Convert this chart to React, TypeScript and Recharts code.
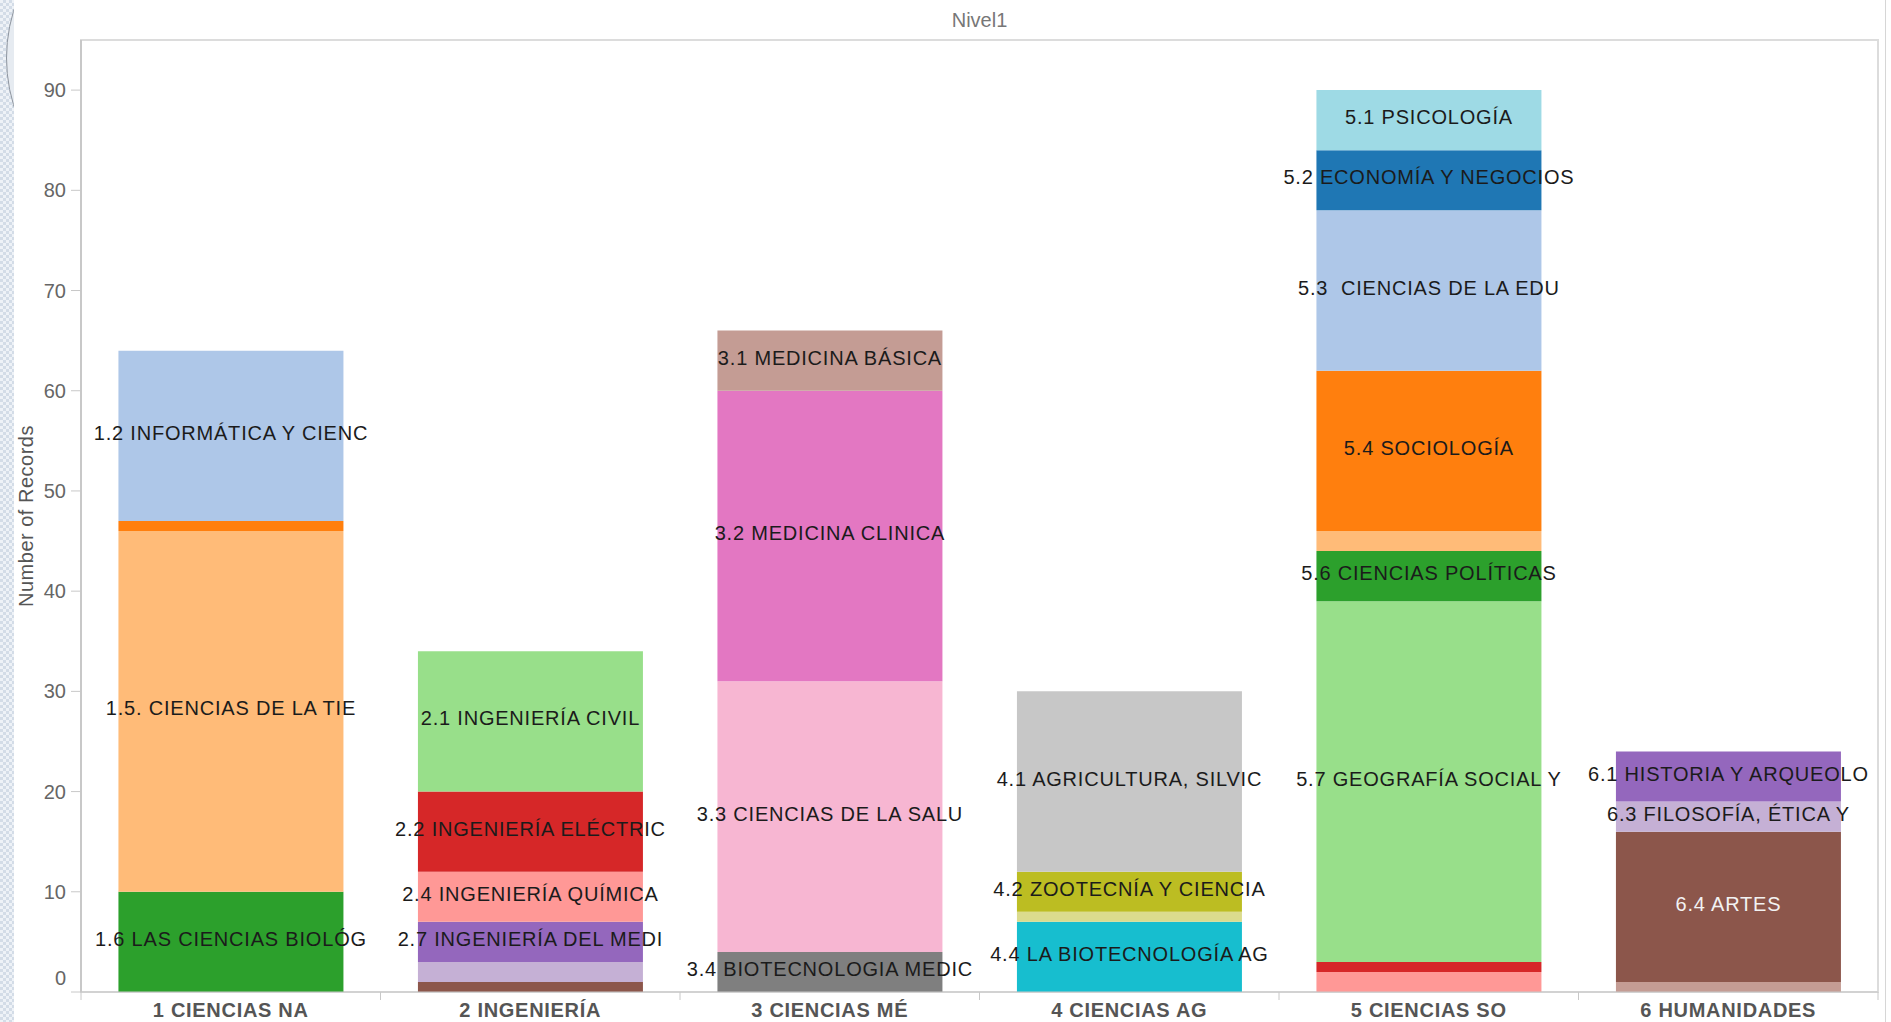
import { BarChart, Bar, XAxis, YAxis, LabelList, ReferenceArea } from "recharts";

const categories = [
  "1 CIENCIAS NA",
  "2 INGENIERÍA",
  "3 CIENCIAS MÉ",
  "4 CIENCIAS AG",
  "5 CIENCIAS SO",
  "6 HUMANIDADES",
];

// sub-areas, listed top of the stack to bottom inside each column
const subKeys = [
  "1.2", "1.3", "1.5", "1.6",
  "2.1", "2.2", "2.4", "2.7", "2.8", "2.9",
  "3.1", "3.2", "3.3", "3.4",
  "4.1", "4.2", "4.3", "4.4",
  "5.1", "5.2", "5.3", "5.4", "5.5", "5.6", "5.7", "5.8", "5.9",
  "6.1", "6.3", "6.4", "6.5",
];

const subLabels = [
  "1.2 INFORMÁTICA Y CIENC", "", "1.5. CIENCIAS DE LA TIE", "1.6 LAS CIENCIAS BIOLÓG",
  "2.1 INGENIERÍA CIVIL", "2.2 INGENIERÍA ELÉCTRIC", "2.4 INGENIERÍA QUÍMICA", "2.7 INGENIERÍA DEL MEDI", "", "",
  "3.1 MEDICINA BÁSICA", "3.2 MEDICINA CLINICA", "3.3 CIENCIAS DE LA SALU", "3.4 BIOTECNOLOGIA MEDIC",
  "4.1 AGRICULTURA, SILVIC", "4.2 ZOOTECNÍA Y CIENCIA", "", "4.4 LA BIOTECNOLOGÍA AG",
  "5.1 PSICOLOGÍA", "5.2 ECONOMÍA Y NEGOCIOS", "5.3  CIENCIAS DE LA EDU", "5.4 SOCIOLOGÍA", "",
  "5.6 CIENCIAS POLÍTICAS", "5.7 GEOGRAFÍA SOCIAL Y", "", "",
  "6.1 HISTORIA Y ARQUEOLO", "6.3 FILOSOFÍA, ÉTICA Y", "6.4 ARTES", "",
];

const subCategory = [
  0, 0, 0, 0,
  1, 1, 1, 1, 1, 1,
  2, 2, 2, 2,
  3, 3, 3, 3,
  4, 4, 4, 4, 4, 4, 4, 4, 4,
  5, 5, 5, 5,
];

const subValues = [
  17, 1, 36, 10,
  14, 8, 5, 4, 2, 1,
  6, 29, 27, 4,
  18, 4, 1, 7,
  6, 6, 16, 16, 2, 5, 36, 1, 2,
  5, 3, 15, 1,
];

const yTicks = [0, 10, 20, 30, 40, 50, 60, 70, 80, 90];

// tableau 20
const palette = [
  "#1f77b4", "#aec7e8", "#ff7f0e", "#ffbb78", "#2ca02c", "#98df8a", "#d62728", "#ff9896",
  "#9467bd", "#c5b0d5", "#8c564b", "#c49c94", "#e377c2", "#f7b6d2", "#7f7f7f", "#c7c7c7",
  "#bcbd22", "#dbdb8d", "#17becf", "#9edae5",
];

const data = categories.map((cat, c) => {
  const row: Record<string, string | number> = { cat };
  subKeys.forEach((k, i) => {
    if (subCategory[i] === c) row[k] = subValues[i];
  });
  return row;
});

const FONT = "'Liberation Sans', Arial, sans-serif";

function XTick(props: any) {
  const { x, y, payload, index } = props;
  const off = payload?.offset ?? 0;
  return (
    <g>
      {index === 0 && <line x1={x - off} x2={x - off} y1={y} y2={y + 8} stroke="#c8c8c8" />}
      <line x1={x + off} x2={x + off} y1={y} y2={y + 8} stroke="#c8c8c8" />
      <text x={x} y={y + 25} textAnchor="middle" fontSize={20} fontWeight="bold" fill="#555" fontFamily={FONT} letterSpacing={0.7}>
        {payload.value}
      </text>
    </g>
  );
}

function YTick(props: any) {
  const { x, y, payload } = props;
  const dy = payload.value === 0 ? -14 : 0;
  return (
    <text x={x} y={y + dy} textAnchor="end" dominantBaseline="central" fontSize={20} fill="#666" fontFamily={FONT}>
      {payload.value}
    </text>
  );
}

function segmentLabel(text: string, color: string) {
  return (props: any) => {
    const vb = props.viewBox || props;
    const x = vb.x ?? props.x;
    const y = vb.y ?? props.y;
    const w = vb.width ?? props.width;
    const h = vb.height ?? props.height;
    if (!text || !(Math.abs(h) > 0.5)) return null;
    return (
      <text
        x={x + w / 2}
        y={y + h / 2 - 3}
        textAnchor="middle"
        dominantBaseline="central"
        fontSize={20}
        fill={color}
        fontFamily={FONT}
        letterSpacing={0.8}
        style={{ whiteSpace: "pre" }}
      >
        {text}
      </text>
    );
  };
}

export default function App() {
  const bars = subKeys
    .map((k, i) => (
      <Bar key={k} dataKey={k} stackId="a" fill={palette[(i + 1) % 20]} isAnimationActive={false}>
        <LabelList dataKey={k} content={segmentLabel(subLabels[i], k === "6.4" ? "#f2f2f2" : "#1b1b1b")} />
      </Bar>
    ))
    .reverse();

  return (
    <div style={{ position: "absolute", left: 0, top: 0, width: 1891, height: 1022, background: "#fff", fontFamily: FONT, overflow: "hidden" }}>
      {/* slide edge */}
      <div
        style={{
          position: "absolute", left: 0, top: 0, width: 14, height: 1022, overflow: "hidden",
          background: "repeating-conic-gradient(#d3dce7 0 25%, #eef2f7 0 50%) 0 0 / 6px 6px",
        }}
      >
        <div style={{ position: "absolute", left: 6, top: -103, width: 320, height: 320, borderRadius: "50%", border: "1px solid #8d949e", background: "#e6ebf1" }} />
      </div>
      <div style={{ position: "absolute", left: 1885, top: 0, width: 1, height: 1022, background: "#d6d6d6" }} />
      <BarChart
        width={1891}
        height={1022}
        data={data}
        margin={{ top: 40, right: 13, bottom: 0, left: 0 }}
        barCategoryGap="12.5%"
      >
        <ReferenceArea
          x1={categories[0]}
          x2={categories[categories.length - 1]}
          y1={0}
          y2={95}
          fill="none"
          stroke="#dcdcdc"
          strokeWidth={2}
          ifOverflow="extendDomain"
          label={{ value: "Nivel1", position: "top", offset: 13, fill: "#777", fontSize: 20, fontFamily: FONT }}
        />
        <XAxis
          dataKey="cat"
          height={30}
          interval={0}
          tickLine={false}
          tickSize={0}
          tickMargin={0}
          axisLine={{ stroke: "#c8c8c8" }}
          tick={<XTick />}
        />
        <YAxis
          type="number"
          domain={[0, 95]}
          ticks={yTicks}
          width={81}
          tickSize={10}
          tickMargin={5}
          axisLine={{ stroke: "#c8c8c8", strokeWidth: 2 }}
          tickLine={{ stroke: "#c8c8c8" }}
          tick={<YTick />}
          label={(p: any) => {
            const vb = p.viewBox || { x: 0, y: 40, width: 81, height: 952 };
            const cx = vb.x + 26;
            const cy = vb.y + vb.height / 2;
            return (
              <text x={cx} y={cy} transform={`rotate(-90, ${cx}, ${cy})`} textAnchor="middle" dominantBaseline="central" fontSize={20} fill="#555" fontFamily={FONT} letterSpacing={0.5}>
                Number of Records
              </text>
            );
          }}
        />
        {bars}
      </BarChart>
    </div>
  );
}
